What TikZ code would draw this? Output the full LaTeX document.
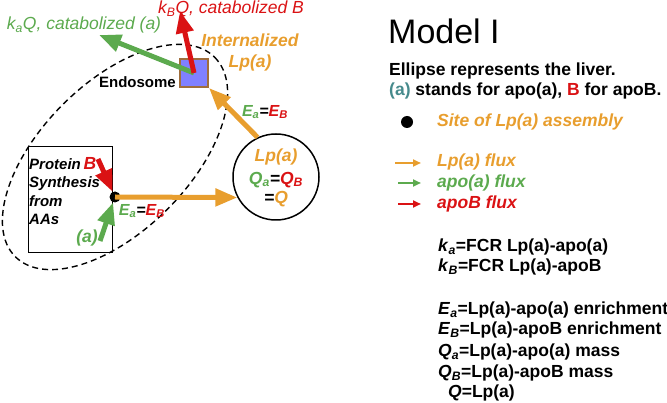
\documentclass[tikz,border=0pt]{standalone}
\usepackage{fontspec}
\setmainfont{Liberation Sans}
\usetikzlibrary{arrows.meta}
\definecolor{lpa}{RGB}{232,158,46}
\definecolor{apoa}{RGB}{92,170,78}
\definecolor{apob}{RGB}{218,18,20}
\definecolor{apoateal}{RGB}{70,138,140}
\definecolor{endofill}{RGB}{128,128,255}
\definecolor{endoedge}{RGB}{160,110,60}
\newcommand{\vsym}[2]{\textit{#1}\textsubscript{\textit{#2}}}

\begin{document}
\begin{tikzpicture}[x=1pt,y=-1pt,
    lbl/.style={font=\fontsize{17.5}{21}\selectfont\bfseries\itshape},
    small/.style={font=\fontsize{15}{18.5}\selectfont\bfseries\itshape},
    txt/.style={font=\fontsize{17.5}{21}\selectfont\bfseries,anchor=west,inner sep=0pt},
    flux/.style={line width=5pt,-{Triangle[length=22pt,width=17pt]}},
    key/.style={line width=2pt,-{Triangle[length=8pt,width=7pt]}}]
  \useasboundingbox (0,0) rectangle (667,403);

  \draw[dash pattern=on 6pt off 4pt,line width=1.4pt,rotate around={45:(115,157)}]
    (115,157) ellipse [x radius=141,y radius=74];
  \draw[line width=1pt] (28,147) rectangle (112,253);
  \node[small,align=left,anchor=north west,inner sep=0pt] (synth) at (29,158)
    {Protein\\Synthesis\\from\\AAs};

  \node[circle,fill,inner sep=0pt,minimum size=11pt] (site) at (115,197) {};
  \node[circle,draw,line width=1.5pt,minimum size=86pt,inner sep=0pt] (pool)
    at (276,177) {};
  \node[draw=endoedge,fill=endofill,line width=2pt,minimum size=28pt,
    inner sep=0pt] (endo) at (194,73) {};

  \coordinate (bIn) at (98,159);
  \coordinate (aIn) at (100,241);
  \coordinate (bOut) at (180,11);
  \coordinate (aOut) at (99,35);
  \draw[flux,apob] (bIn) -- (site);
  \draw[flux,apoa] (aIn) -- (site);
  \draw[flux,lpa] (site.center) -- (pool.208);
  \draw[flux,lpa] (pool.115) -- (endo.south east);
  \draw[flux,apoa] (endo.center) -- (aOut);
  \draw[flux,apob] (endo.center) -- (bOut);

  \node[lbl,apob] (bLbl) at (90,163) {B};
  \node[lbl,apoa] (aLbl) at (87,238) {(a)};
  \node[lbl,font=\fontsize{16}{19}\selectfont\bfseries\itshape] (siteE) at (142,211)
    {\textcolor{apoa}{E\textsubscript{a}}=\textcolor{apob}{E\textsubscript{B}}};
  \node[lbl,font=\fontsize{16}{19}\selectfont\bfseries\itshape] (upE) at (265,112)
    {\textcolor{apoa}{E\textsubscript{a}}=\textcolor{apob}{E\textsubscript{B}}};
  \node[lbl,lpa] (poolLp) at (276,157) {Lp(a)};
  \node[lbl] (poolQ) at (276,180)
    {\textcolor{apoa}{Q\textsubscript{a}}=\textcolor{apob}{Q\textsubscript{B}}};
  \node[lbl] (poolEq) at (276,199) {=\textcolor{lpa}{Q}};
  \node[font=\fontsize{15}{18}\selectfont\bfseries,anchor=east,inner sep=0pt]
    (endoLbl) at (176,82) {Endosome};
  \node[lbl,lpa,align=center] (intl) at (250,52) {Internalized\\Lp(a)};
  \node[font=\fontsize{17.5}{21}\selectfont\itshape,apob] (catB) at (231,9)
    {k\textsubscript{B}Q, catabolized B};
  \node[font=\fontsize{17.5}{21}\selectfont\itshape,apoa] (catA) at (84,25)
    {k\textsubscript{a}Q, catabolized (a)};

  \node[font=\fontsize{34}{40}\selectfont,anchor=west,inner sep=0pt] (title)
    at (388,31) {Model I};
  \node[txt] (note1) at (389,71) {Ellipse represents the liver.};
  \node[txt] (note2) at (389,91)
    {\textcolor{apoateal}{(a)} stands for apo(a), \textcolor{apob}{B} for apoB.};

  \node[circle,fill,inner sep=0pt,minimum size=12pt] (keySite) at (407,122) {};
  \node[txt,lpa,font=\fontsize{17.5}{21}\selectfont\bfseries\itshape]
    (keySiteLbl) at (437,122) {Site of Lp(a) assembly};
  \coordinate (keyL1) at (395,163);
  \coordinate (keyR1) at (421,163);
  \coordinate (keyL2) at (398,183);
  \coordinate (keyR2) at (421,183);
  \coordinate (keyL3) at (398,204);
  \coordinate (keyR3) at (421,204);
  \draw[key,lpa] (keyL1) -- (keyR1);
  \draw[key,apoa] (keyL2) -- (keyR2);
  \draw[key,apob] (keyL3) -- (keyR3);
  \node[txt,lpa,font=\fontsize{17.5}{21}\selectfont\bfseries\itshape]
    (keyLp) at (437,162) {Lp(a) flux};
  \node[txt,apoa,font=\fontsize{17.5}{21}\selectfont\bfseries\itshape]
    (keyA) at (437,183) {apo(a) flux};
  \node[txt,apob,font=\fontsize{17.5}{21}\selectfont\bfseries\itshape]
    (keyB) at (437,204) {apoB flux};

  \node[txt] (defKa) at (438,247) {\vsym{k}{a}=FCR Lp(a)-apo(a)};
  \node[txt] (defKb) at (438,267) {\vsym{k}{B}=FCR Lp(a)-apoB};
  \node[txt] (defEa) at (438,310) {\vsym{E}{a}=Lp(a)-apo(a) enrichment};
  \node[txt] (defEb) at (438,330) {\vsym{E}{B}=Lp(a)-apoB enrichment};
  \node[txt] (defQa) at (438,352) {\vsym{Q}{a}=Lp(a)-apo(a) mass};
  \node[txt] (defQb) at (438,373) {\vsym{Q}{B}=Lp(a)-apoB mass};
  \node[txt] (defQ) at (448,393) {\textit{Q}=Lp(a)};
\end{tikzpicture}
\end{document}
